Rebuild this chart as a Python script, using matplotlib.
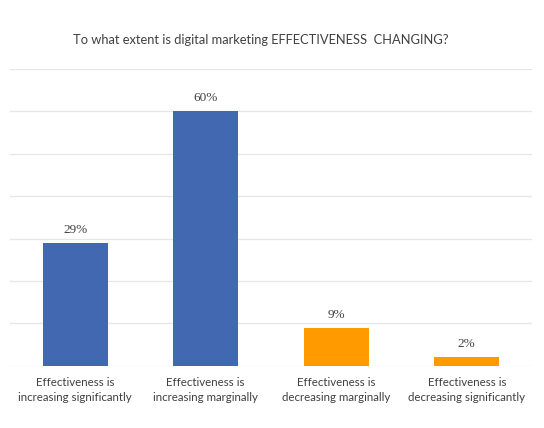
import matplotlib
matplotlib.use("Agg")
import matplotlib.pyplot as plt

categories = ["Effectiveness is\nincreasing significantly",
              "Effectiveness is\nincreasing marginally",
              "Effectiveness is\ndecreasing marginally",
              "Effectiveness is\ndecreasing significantly"]
values = [29, 60, 9, 2]
labels = ["29%", "60%", "9%", "2%"]
colors = ["#4168B0", "#4168B0", "#FF9A00", "#FF9A00"]
title = "To what extent is digital marketing EFFECTIVENESS  CHANGING?"

fig = plt.figure(figsize=(5.44, 4.28), dpi=100)
ax = fig.add_axes([10/544, 1 - 365.7/428, 522/544, (365.7 - 68.9)/428])

x = list(range(len(values)))
ax.bar(x, values, width=0.5, color=colors, zorder=3)
ax.set_xlim(-0.5, len(values) - 0.5)
ax.set_ylim(0, 70)
ax.set_yticks(range(0, 71, 10))
ax.yaxis.grid(True, color="#E6E6E6", linewidth=0.9, zorder=0)
ax.tick_params(axis="y", left=False, labelleft=False)
ax.tick_params(axis="x", length=0, pad=8)
ax.set_xticks(x)
ax.set_xticklabels(categories, fontsize=8.3, color="#404040", family="Lato", linespacing=1.45)
for s in ax.spines.values():
    s.set_visible(False)

for xi, v, lab in zip(x, values, labels):
    ax.annotate(lab, (xi, v), xytext=(0, 5), textcoords="offset points",
                ha="center", va="bottom", fontsize=9.5, color="#404040",
                family="Liberation Serif")

fig.text(261/544, 1 - 40/428, title, ha="center", va="center",
         fontsize=9.3, color="#404040", family="Lato")

fig.savefig("out.png", dpi=100, facecolor="white")
